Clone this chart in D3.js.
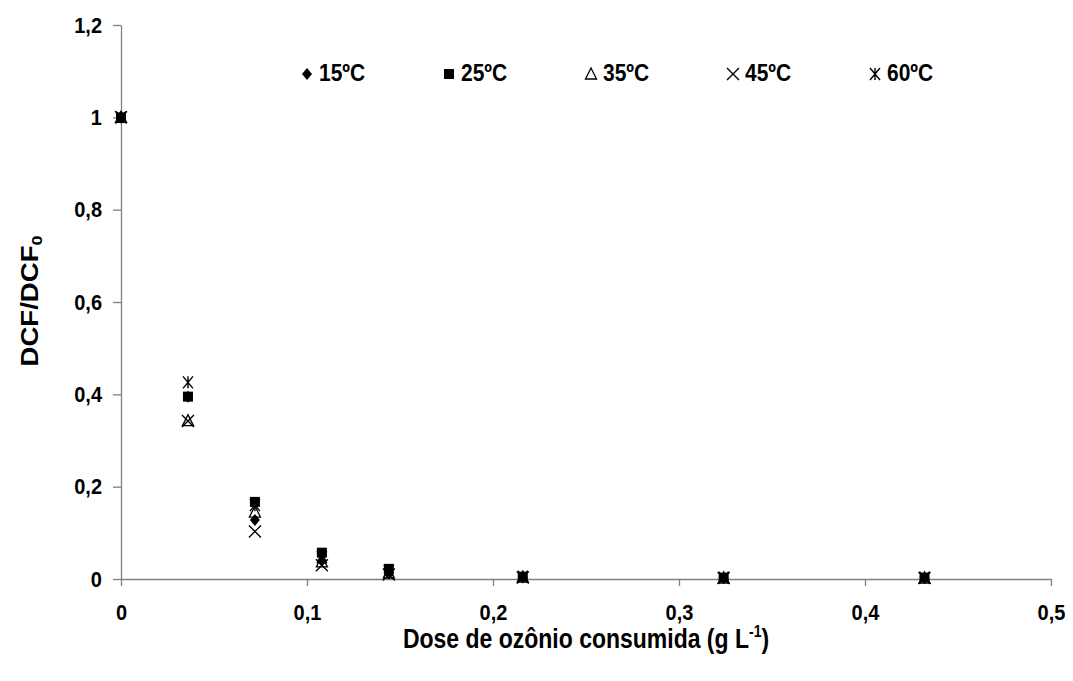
<!DOCTYPE html>
<html><head><meta charset="utf-8">
<script src="https://cdn.jsdelivr.net/npm/d3@7"></script>
<style>body{margin:0;background:#fff;} text{font-family:"Liberation Sans",Arial,sans-serif;font-weight:bold;}</style>
</head><body><svg id="c" width="1073" height="681"></svg>
<script>
const doses = [0, 0.036, 0.072, 0.108, 0.144, 0.216, 0.324, 0.432];
const s15 = [1, 0.395, 0.128, 0.040, 0.012, 0.003, 0.002, 0.002];
const s25 = [1, 0.395, 0.167, 0.057, 0.022, 0.005, 0.003, 0.003];
const s35 = [1, 0.343, 0.145, 0.037, 0.013, 0.004, 0.002, 0.002];
const s45 = [1, 0.342, 0.103, 0.030, 0.010, 0.003, 0.002, 0.002];
const s60 = [1, 0.426, 0.160, 0.047, 0.018, 0.005, 0.003, 0.003];
const seriesNames = ["15ºC", "25ºC", "35ºC", "45ºC", "60ºC"];
const xTicks = [0, 0.1, 0.2, 0.3, 0.4, 0.5];
const yTicks = [0, 0.2, 0.4, 0.6, 0.8, 1, 1.2];

const series = [
  {name: seriesNames[0], vals: s15, sym: "diamond"},
  {name: seriesNames[1], vals: s25, sym: "square"},
  {name: seriesNames[2], vals: s35, sym: "triangle"},
  {name: seriesNames[3], vals: s45, sym: "cross"},
  {name: seriesNames[4], vals: s60, sym: "star"}
];

const SY = 1.12; // vertical stretch of text
const svg = d3.select("#c");
const x = d3.scaleLinear().domain([0, 0.5]).range([121, 1051]);
const y = d3.scaleLinear().domain([0, 1.2]).range([579, 25]);
const fmt = d => String(d).replace(".", ",");

const gx = svg.append("g").attr("transform", "translate(0,579)")
  .call(d3.axisBottom(x).tickValues(xTicks).tickFormat(fmt).tickSize(7).tickSizeOuter(0));
const gy = svg.append("g").attr("transform", "translate(121,0)")
  .call(d3.axisLeft(y).tickValues(yTicks).tickFormat(fmt).tickSize(8).tickSizeOuter(0));
[gx, gy].forEach(g => {
  g.selectAll("path,line").attr("stroke", "#808080").attr("stroke-width", 1.3);
});
gx.selectAll(".tick text").attr("y", 0).attr("dy", null)
  .attr("transform", `translate(0,41) scale(1,${SY})`)
  .attr("font-size", 20).attr("fill", "#000").attr("font-weight", "bold");
gy.selectAll(".tick text").attr("x", 0).attr("dy", null)
  .attr("transform", `translate(-19,7) scale(1,${SY})`)
  .attr("font-size", 20).attr("fill", "#000").attr("font-weight", "bold");

function drawMarker(g, sym, cx, cy) {
  if (sym === "diamond") {
    g.append("path").attr("d", `M${cx},${cy-6}L${cx+5},${cy}L${cx},${cy+6}L${cx-5},${cy}Z`).attr("fill", "#000");
  } else if (sym === "square") {
    g.append("rect").attr("x", cx-5).attr("y", cy-5).attr("width", 10).attr("height", 10).attr("fill", "#000");
  } else if (sym === "triangle") {
    g.append("path").attr("d", `M${cx},${cy-6}L${cx+5.5},${cy+5}L${cx-5.5},${cy+5}Z`)
      .attr("fill", "none").attr("stroke", "#000").attr("stroke-width", 1.3);
  } else if (sym === "cross") {
    g.append("path").attr("d", `M${cx-6},${cy-6}L${cx+6},${cy+6}M${cx+6},${cy-6}L${cx-6},${cy+6}`)
      .attr("stroke", "#000").attr("stroke-width", 1.4);
  } else if (sym === "star") {
    g.append("path").attr("d", `M${cx-5},${cy-6}L${cx+5},${cy+6}M${cx+5},${cy-6}L${cx-5},${cy+6}M${cx},${cy-6}L${cx},${cy+6}`)
      .attr("stroke", "#000").attr("stroke-width", 1.4);
  }
}

const pts = svg.append("g");
series.forEach(s => {
  s.vals.forEach((v, i) => drawMarker(pts, s.sym, x(doses[i]), y(v)));
});

// legend
const legX = [307, 449, 591, 733, 875];
const leg = svg.append("g");
series.forEach((s, i) => {
  drawMarker(leg, s.sym, legX[i], 74);
  leg.append("text").attr("transform", `translate(${legX[i] + 12},81) scale(1,${SY})`)
    .attr("font-size", 21).text(s.name);
});

// axis titles
const xt = svg.append("text").attr("transform", `translate(586,648) scale(1,1.2)`)
  .attr("text-anchor", "middle").attr("font-size", 23);
xt.append("tspan").text("Dose de ozônio consumida (g L");
xt.append("tspan").attr("font-size", 14).attr("dy", -9).text("-1");
xt.append("tspan").attr("dy", 9).text(")");

const yt = svg.append("text").attr("transform", `translate(38,301) rotate(-90) scale(1.2,1)`)
  .attr("text-anchor", "middle").attr("font-size", 23);
yt.append("tspan").text("DCF/DCF");
yt.append("tspan").attr("font-size", 15).attr("dy", 4).text("0");
</script></body></html>
